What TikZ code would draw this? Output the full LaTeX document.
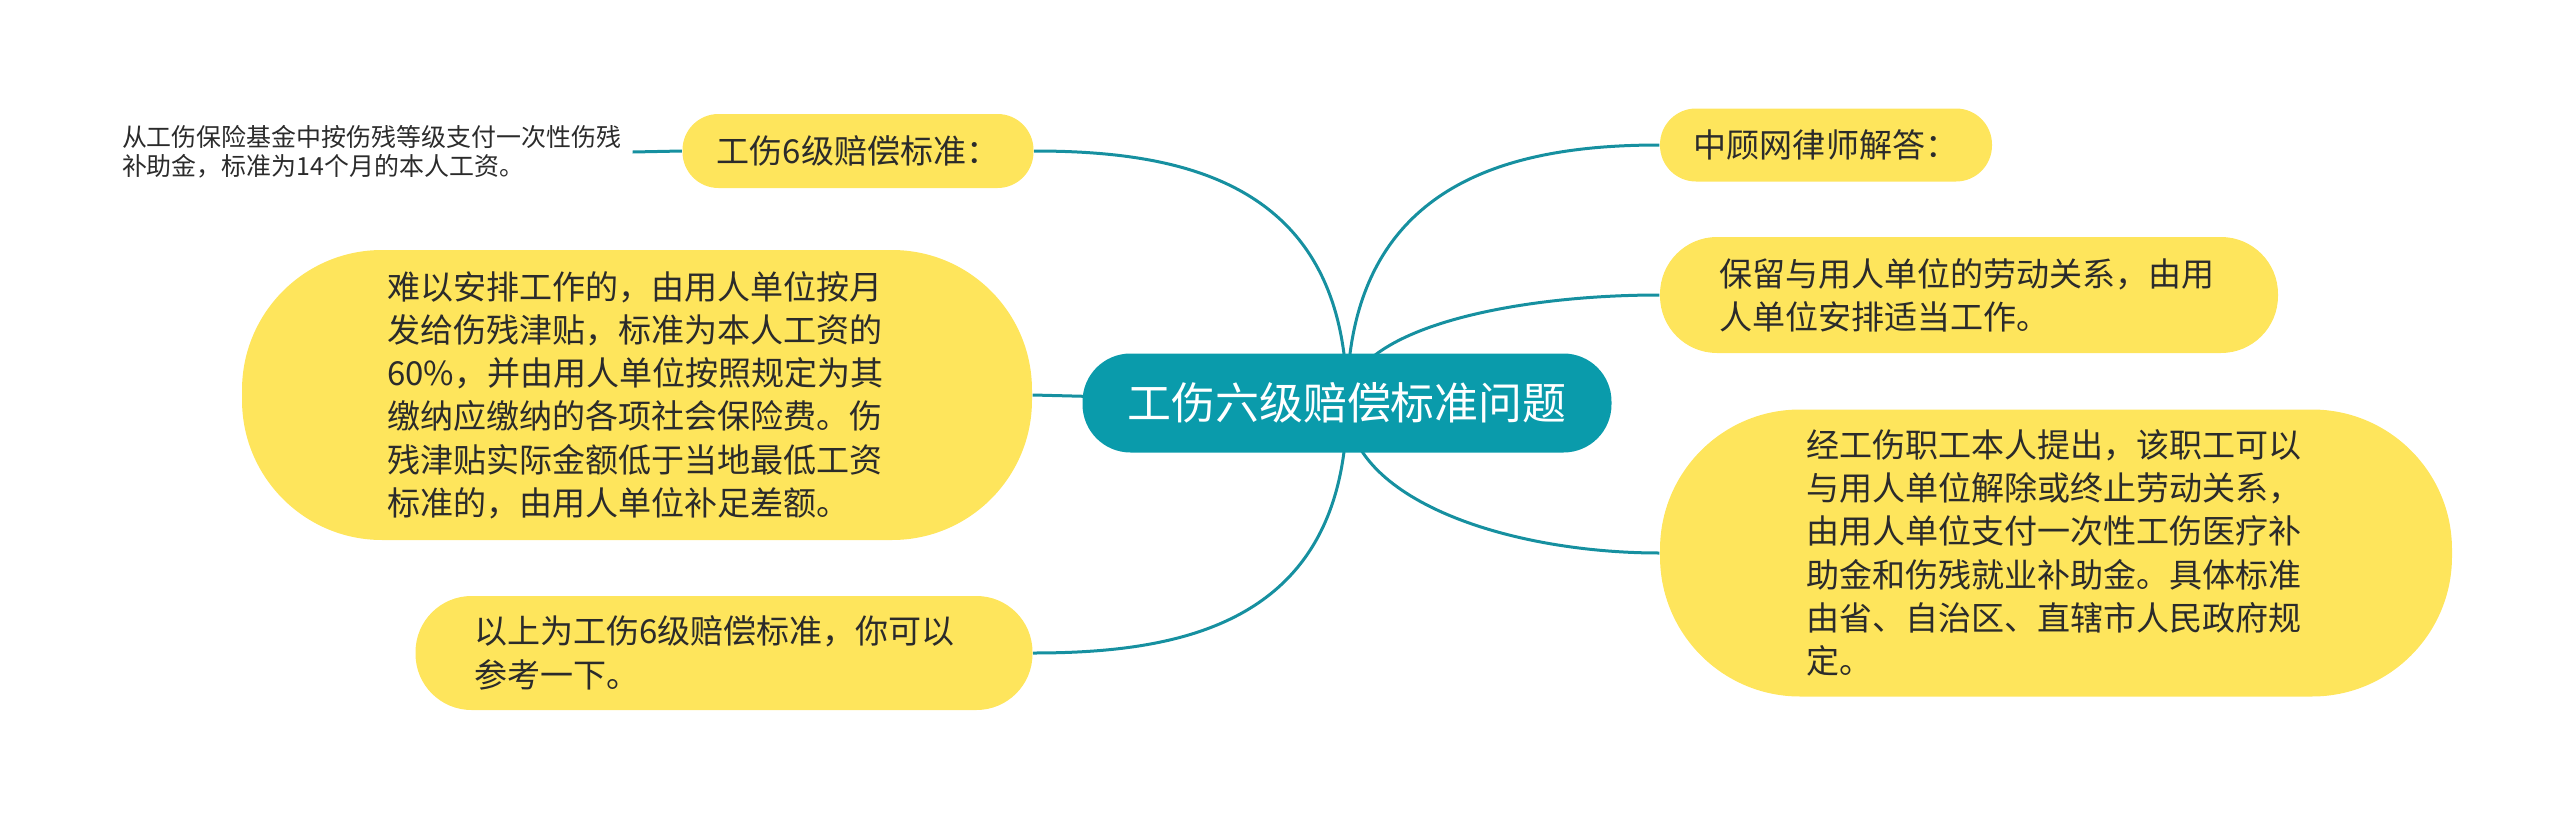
\documentclass[tikz,border=0pt]{standalone}
\usepackage{fontspec}
\setmainfont{Noto Sans CJK SC}
\usetikzlibrary{backgrounds}
\definecolor{themeteal}{HTML}{0A9BAB}
\definecolor{lineteal}{HTML}{1690A0}
\definecolor{notey}{HTML}{FEE55C}
\definecolor{inkgray}{HTML}{2B2B2B}

\begin{document}
\begin{tikzpicture}[x=0.1mm,y=-0.1mm,
  topic/.style={fill=themeteal,text=white,rounded corners=4.8mm,minimum width=52.9mm,minimum height=9.9mm,font=\fontsize{12.5pt}{15pt}\selectfont},
  branch/.style={fill=notey,text=inkgray,align=left,font=\fontsize{9.4pt}{12.3pt}\selectfont},
  link/.style={draw=lineteal,line width=0.3mm}]
		\useasboundingbox (0,0) rectangle (2560,822);
		\node (root) [at={(1347,403)}, topic] {工伤六级赔偿标准问题};
		% left side
		\node (std) [at={(858,151)}, branch, rounded corners=3.6mm, minimum width=35.1mm, minimum height=7.4mm] {工伤6级赔偿标准：};
		\node (leaf) [at={(373,152)}, text=inkgray, align=left, text width=50.2mm, inner xsep=0.8mm, font=\fontsize{7.1pt}{8.2pt}\selectfont] {从工伤保险基金中按伤残等级支付一次性伤残\\补助金，标准为14个月的本人工资。};
		\node (sub) [at={(637,395)}, branch, rounded corners=14mm, text width=50mm, minimum width=79mm, minimum height=29mm] {难以安排工作的，由用人单位按月\\发给伤残津贴，标准为本人工资的\\60\%，并由用人单位按照规定为其\\缴纳应缴纳的各项社会保险费。伤\\残津贴实际金额低于当地最低工资\\标准的，由用人单位补足差额。};
		\node (ref) [at={(724,653)}, branch, rounded corners=5.6mm, text width=50mm, minimum width=61.7mm, minimum height=11.4mm] {以上为工伤6级赔偿标准，你可以\\参考一下。};
		% right side
		\node (ans) [at={(1826,145)}, branch, rounded corners=3.6mm, minimum width=33.2mm, minimum height=7.3mm] {中顾网律师解答：};
		\node (keep) [at={(1969,295)}, branch, rounded corners=5.7mm, text width=50mm, minimum width=61.8mm, minimum height=11.6mm] {保留与用人单位的劳动关系，由用\\人单位安排适当工作。};
		\node (quit) [at={(2056,553)}, branch, rounded corners=14mm, text width=50mm, minimum width=79.2mm, minimum height=28.7mm] {经工伤职工本人提出，该职工可以\\与用人单位解除或终止劳动关系，\\由用人单位支付一次性工伤医疗补\\助金和伤残就业补助金。具体标准\\由省、自治区、直辖市人民政府规\\定。};
		\begin{scope}[on background layer]
		\draw[link] (root.center) .. controls +(0,-220) and +(150,0) .. (std.east);
		\draw[link] (root.center) -- (sub.east);
		\draw[link] (root.center) .. controls +(0,220) and +(150,0) .. (ref.east);
		\draw[link] (std.west) -- (leaf.east);
		\draw[link] (root.center) .. controls +(0,-220) and +(-150,0) .. (ans.west);
		\draw[link] (root.center) .. controls +(0,-73) and +(-150,0) .. (keep.west);
		\draw[link] (root.center) .. controls +(0,97) and +(-150,0) .. (quit.west);
		\end{scope}
\end{tikzpicture}
\end{document}
